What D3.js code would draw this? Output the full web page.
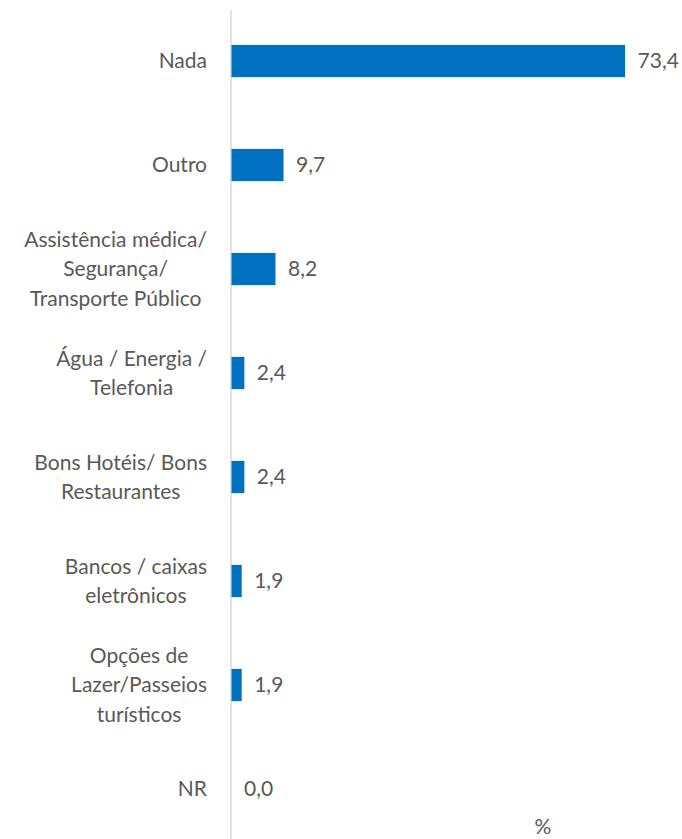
<!DOCTYPE html>
<html>
<head>
<meta charset="utf-8">
<script src="https://cdn.jsdelivr.net/npm/d3@7/dist/d3.min.js"></script>
<style>
  html, body { margin: 0; padding: 0; background: #fff; }
  svg { display: block; }
  text { font-family: "Lato", "Open Sans", sans-serif; fill: #595959; }
</style>
</head>
<body>
<svg id="chart" width="682" height="839"></svg>
<script>
// Category labels (multi-line labels split on "|")
const categories = [
  "Nada",
  "Outro",
  "Assistência médica/|Segurança/|Transporte Público",
  "Água / Energia /|Telefonia",
  "Bons Hotéis/ Bons|Restaurantes",
  "Bancos / caixas|eletrônicos",
  "Opções de|Lazer/Passeios|turísticos",
  "NR"
];
const values = [73.4, 9.7, 8.2, 2.4, 2.4, 1.9, 1.9, 0.0];
const axisTitle = "%";

const svg = d3.select("#chart");
const fmt = v => d3.format(".1f")(v).replace(".", ",");
const fontSize = 21;

const x = d3.scaleLinear().domain([0, 80]).range([231, 660]);
const y = d3.scaleBand()
  .domain(categories)
  .range([9, 841])
  .paddingInner(0.69)
  .paddingOuter(0.345);

// vertical category axis line
svg.append("line")
  .attr("x1", x(0)).attr("x2", x(0))
  .attr("y1", 10).attr("y2", 839)
  .attr("stroke", "#d9d9d9").attr("stroke-width", 1.5);

// bars
svg.selectAll("rect.bar")
  .data(values)
  .join("rect")
  .attr("class", "bar")
  .attr("x", x(0) + 0.5)
  .attr("y", (d, i) => y(categories[i]))
  .attr("width", d => Math.max(0, x(d) - x(0)))
  .attr("height", y.bandwidth())
  .attr("fill", "#0070c0");

// value labels
svg.selectAll("text.val")
  .data(values)
  .join("text")
  .attr("class", "val")
  .attr("x", d => x(d) + 13)
  .attr("y", (d, i) => y(categories[i]) + y.bandwidth() / 2)
  .attr("dy", "0.35em")
  .attr("font-size", fontSize)
  .text(d => fmt(d));

// category labels: lines centred within a block that is right-aligned to the axis
const lineH = 29.5;
const labelRight = 207;
const lab = svg.selectAll("text.cat")
  .data(categories)
  .join("text")
  .attr("class", "cat")
  .attr("text-anchor", "middle")
  .attr("font-size", fontSize);
lab.each(function(d) {
  const lines = d.split("|");
  const t = d3.select(this);
  const spans = lines.map((ln, k) => t.append("tspan")
      .attr("x", 0)
      .attr("y", (k - (lines.length - 1) / 2) * lineH)
      .attr("dy", "0.35em")
      .text(ln));
  const maxW = d3.max(spans, s => s.node().getComputedTextLength());
  t.attr("transform", `translate(${labelRight - maxW / 2}, ${y(d) + y.bandwidth() / 2})`);
});

// axis title
svg.append("text")
  .attr("x", 543)
  .attr("y", 834)
  .attr("text-anchor", "middle")
  .attr("font-size", fontSize)
  .text(axisTitle);
</script>
</body>
</html>
